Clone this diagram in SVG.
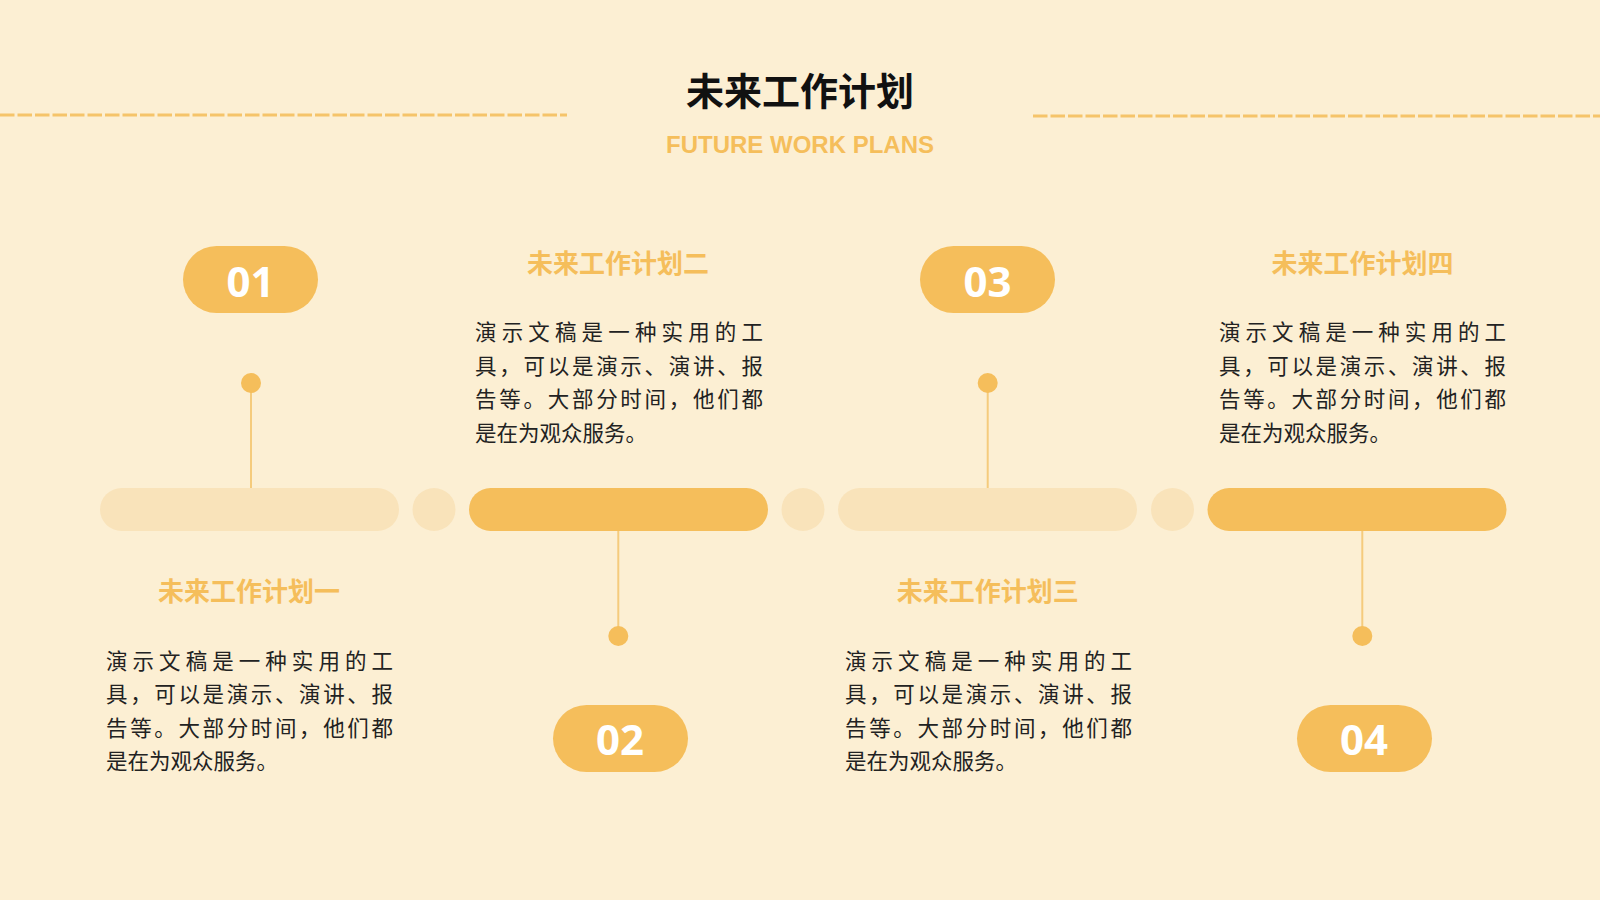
<svg xmlns="http://www.w3.org/2000/svg" width="1600" height="900" viewBox="0 0 1600 900">
<style>
.bg{fill:#FCEFD3}
.orange{fill:#F5BE5B}
.light{fill:#F9E3BA}
.conn{stroke:#F5CB7C;stroke-width:2;fill:none}
.dash{stroke:#F5C46A;stroke-width:3;stroke-dasharray:14.5 3;fill:none}
.num{font-family:"Noto Sans","Open Sans",sans-serif;font-weight:700;font-size:42px;fill:#FFFFFF;text-anchor:middle}
.ttl{font-family:"Noto Sans CJK SC",sans-serif;font-weight:700;font-size:26px;fill:#F5BE5B;text-anchor:middle}
.body{font-family:"Noto Sans CJK SC",sans-serif;font-size:21.5px;fill:#222222}
</style>
<rect class="bg" x="0" y="0" width="1600" height="900"/>
<g id="header">
<line class="dash" x1="0" y1="115" x2="567" y2="115"/>
<line class="dash" x1="1033" y1="116" x2="1600" y2="116"/>
<text x="800" y="105" font-family="'Noto Sans CJK SC',sans-serif" font-weight="700" font-size="38" fill="#111111" text-anchor="middle">未来工作计划</text>
<text x="800" y="152.5" font-family="'Liberation Sans',Arial,sans-serif" font-weight="700" font-size="24" fill="#F5BE5B" text-anchor="middle">FUTURE WORK PLANS</text>
</g>
<g id="connectors">
<line class="conn" x1="251" y1="383" x2="251" y2="489"/>
<line class="conn" x1="618.3" y1="530" x2="618.3" y2="636"/>
<line class="conn" x1="987.7" y1="383" x2="987.7" y2="489"/>
<line class="conn" x1="1362.3" y1="530" x2="1362.3" y2="636"/>
</g>
<g id="timeline">
<rect class="light" x="100" y="488" width="299" height="43" rx="21.5"/>
<circle class="light" cx="434" cy="509.5" r="21.5"/>
<rect class="orange" x="469" y="488" width="299" height="43" rx="21.5"/>
<circle class="light" cx="803" cy="509.5" r="21.5"/>
<rect class="light" x="838" y="488" width="299" height="43" rx="21.5"/>
<circle class="light" cx="1172.5" cy="509.5" r="21.5"/>
<rect class="orange" x="1207.5" y="488" width="299" height="43" rx="21.5"/>
</g>
<g id="node-01">
<rect class="orange" x="183" y="246" width="135" height="67" rx="33.5"/>
<text class="num" x="250.5" y="297">01</text>
<circle class="orange" cx="251" cy="383" r="10"/>
<text class="ttl" x="249" y="601">未来工作计划一</text>
<text class="body"><tspan x="106" y="669" textLength="287" lengthAdjust="spacing">演示文稿是一种实用的工</tspan><tspan x="106" y="702.3" textLength="287" lengthAdjust="spacing">具，可以是演示、演讲、报</tspan><tspan x="106" y="735.6" textLength="287" lengthAdjust="spacing">告等。大部分时间，他们都</tspan><tspan x="106" y="769">是在为观众服务。</tspan></text>
</g>
<g id="node-02">
<rect class="orange" x="553" y="705" width="135" height="67" rx="33.5"/>
<text class="num" x="620" y="754.5">02</text>
<circle class="orange" cx="618.3" cy="636" r="10"/>
<text class="ttl" x="618" y="273">未来工作计划二</text>
<text class="body"><tspan x="475" y="340" textLength="288" lengthAdjust="spacing">演示文稿是一种实用的工</tspan><tspan x="475" y="373.5" textLength="288" lengthAdjust="spacing">具，可以是演示、演讲、报</tspan><tspan x="475" y="407" textLength="288" lengthAdjust="spacing">告等。大部分时间，他们都</tspan><tspan x="475" y="440.5">是在为观众服务。</tspan></text>
</g>
<g id="node-03">
<rect class="orange" x="920" y="246" width="135" height="67" rx="33.5"/>
<text class="num" x="987.5" y="296.5">03</text>
<circle class="orange" cx="987.7" cy="383" r="10"/>
<text class="ttl" x="987.7" y="601">未来工作计划三</text>
<text class="body"><tspan x="845" y="669" textLength="287" lengthAdjust="spacing">演示文稿是一种实用的工</tspan><tspan x="845" y="702.3" textLength="287" lengthAdjust="spacing">具，可以是演示、演讲、报</tspan><tspan x="845" y="735.6" textLength="287" lengthAdjust="spacing">告等。大部分时间，他们都</tspan><tspan x="845" y="769">是在为观众服务。</tspan></text>
</g>
<g id="node-04">
<rect class="orange" x="1297" y="705" width="135" height="67" rx="33.5"/>
<text class="num" x="1364" y="755">04</text>
<circle class="orange" cx="1362.3" cy="636" r="10"/>
<text class="ttl" x="1362.5" y="273">未来工作计划四</text>
<text class="body"><tspan x="1219" y="340" textLength="287" lengthAdjust="spacing">演示文稿是一种实用的工</tspan><tspan x="1219" y="373.5" textLength="287" lengthAdjust="spacing">具，可以是演示、演讲、报</tspan><tspan x="1219" y="407" textLength="287" lengthAdjust="spacing">告等。大部分时间，他们都</tspan><tspan x="1219" y="440.5">是在为观众服务。</tspan></text>
</g>
</svg>
